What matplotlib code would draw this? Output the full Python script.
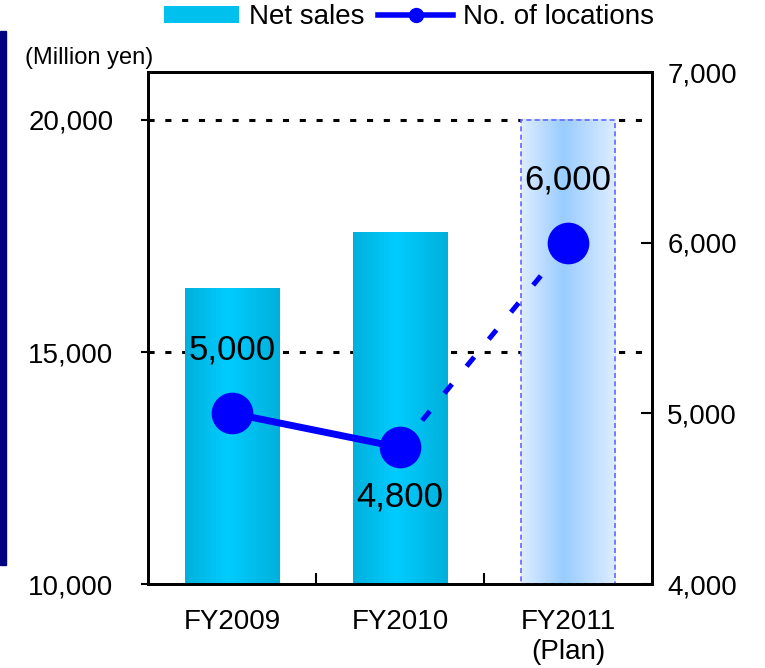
import numpy as np
import matplotlib
matplotlib.use('Agg')
import matplotlib.pyplot as plt
from matplotlib.lines import Line2D
from matplotlib.patches import Patch, Rectangle

plt.rcParams['font.family'] = ['Liberation Sans', 'DejaVu Sans']

# data
years = ['FY2009', 'FY2010', 'FY2011\n(Plan)']
net_sales = [16360, 17570, 20000]
locations = [5000, 4800, 6000]
loc_labels = ['5,000', '4,800', '6,000']

fig = plt.figure(figsize=(7.65, 6.68), dpi=100)
ax = fig.add_axes([0.1935, 0.1257, 0.6588, 0.7665])
x = np.arange(len(years))

# gradient bars
grad_solid = np.array([[0.0, 0.69, 0.86], [0.0, 0.8, 1.0], [0.0, 0.69, 0.86]])
grad_plan = np.array([[0.87, 0.93, 1.0], [0.6, 0.8, 1.0], [0.87, 0.93, 1.0]])
bars = ax.bar(x, net_sales, width=0.565, color='none', zorder=2)
for i, b in enumerate(bars):
    x0, w = b.get_x(), b.get_width()
    top = b.get_height()
    cols = grad_plan if i == 2 else grad_solid
    pos = np.linspace(0, 1, 200)
    img = np.stack([np.interp(pos, [0, 0.45, 1], cols[:, c]) for c in range(3)], axis=-1)
    img = img[np.newaxis, :, :]
    ax.imshow(img, extent=[x0, x0 + w, 10000, top], aspect='auto', zorder=2, interpolation='bilinear')
    if i == 2:
        ax.add_patch(Rectangle((x0, 10000), w, top - 10000, fill=False, edgecolor='#6666FF',
                               linestyle=(0, (3, 2)), linewidth=1.2, zorder=3))
ax.set_xlim(-0.5, 2.5)
ax.set_ylim(10000, 21034)

for yv in [15000, 20000]:
    ax.axhline(yv, color='black', linestyle=(0, (2, 3.5)), linewidth=2.2, zorder=1)

ax.set_yticks([10000, 15000, 20000])
ax.set_yticklabels(['10,000', '15,000', '20,000'], fontsize=20)
ax.tick_params(axis='y', direction='out', length=5, width=1.5, pad=20)
ax.set_xticks(x)
ax.set_xticklabels(years, fontsize=20, linespacing=1.2)
ax.tick_params(axis='x', length=0, pad=18)
ax.set_xticks([0.5, 1.5], minor=True)
ax.tick_params(axis='x', which='minor', direction='in', length=8, width=1.5)
for s in ax.spines.values():
    s.set_linewidth(2)

ax2 = ax.twinx()
ax2.set_ylim(4000, 7000)
ax2.set_yticks([4000, 5000, 6000, 7000])
ax2.set_yticklabels(['4,000', '5,000', '6,000', '7,000'], fontsize=20)
ax2.tick_params(axis='y', direction='in', length=8, width=1.5, pad=11)
for s in ax2.spines.values():
    s.set_linewidth(2)

ax2.plot(x[:2], locations[:2], color='#0000FF', linewidth=5, zorder=4)
ax2.plot(x[1:], locations[1:], color='#0000FF', linewidth=3.6, linestyle=(0, (2.4, 4.6)),
         dash_capstyle='butt', zorder=4)
ax2.plot(x, locations, 'o', color='#0000FF', markersize=29, zorder=5)

offsets = [370, -290, 370]
for xi, yv, lab, off in zip(x, locations, loc_labels, offsets):
    ax2.text(xi, yv + off, lab, ha='center', va='center', fontsize=25, zorder=6)

fig.text(0.033, 0.913, '(Million yen)', fontsize=17, ha='left', va='center')

# navy side bar
fig.add_artist(Rectangle((0, 0.154), 0.008, 0.8, transform=fig.transFigure, color='#000080'))

handles = [Patch(facecolor='#00C0EE', edgecolor='none'),
           Line2D([0], [0], color='#0000FF', linewidth=4, marker='o', markersize=10)]
fig.legend(handles, ['Net sales', 'No. of locations'], loc='center', bbox_to_anchor=(0.535, 0.974),
           ncol=2, frameon=False, fontsize=20, handlelength=2.7, handletextpad=0.35,
           columnspacing=0.5, handleheight=0.6, borderpad=0, borderaxespad=0)

fig.savefig('out.png', dpi=100)
